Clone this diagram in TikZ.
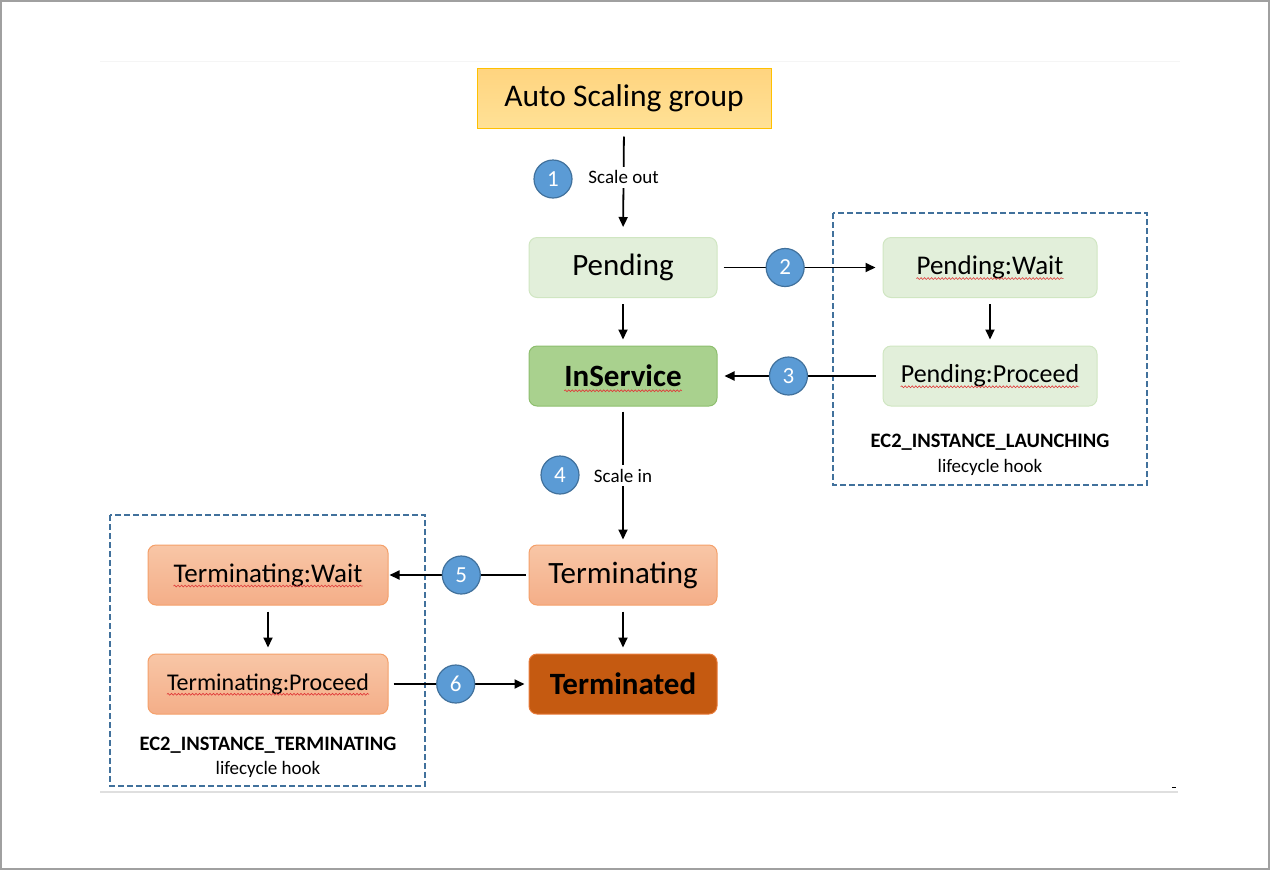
\documentclass[tikz,border=0pt]{standalone}
\usepackage{fontspec}
\setmainfont{Carlito}
\usetikzlibrary{arrows.meta,decorations.pathmorphing}

\definecolor{framegray}{HTML}{A0A0A0}
\definecolor{hookblue}{HTML}{41719C}
\definecolor{stepblue}{HTML}{5B9BD5}
\definecolor{asgtop}{HTML}{FFD47F}
\definecolor{asgbot}{HTML}{FFE196}
\definecolor{asgline}{HTML}{FFC000}
\definecolor{pendfill}{HTML}{E2EFDA}
\definecolor{pendline}{HTML}{D0E6C2}
\definecolor{insvfill}{HTML}{A9D18E}
\definecolor{insvline}{HTML}{8DBE6E}
\definecolor{termtop}{HTML}{F8C6A6}
\definecolor{termbot}{HTML}{F4AE88}
\definecolor{termline}{HTML}{F4A06A}
\definecolor{termdfill}{HTML}{C55A11}
\definecolor{termdline}{HTML}{E87B3A}
\definecolor{spellred}{HTML}{E03A3A}

\tikzset{
  asgbox/.style={draw=asgline, line width=1pt, top color=asgtop, bottom color=asgbot,
    minimum width=294pt, minimum height=60pt, font=\fontsize{31.5}{37}\selectfont},
  state/.style={rounded corners=8pt, line width=1pt, minimum width=188pt, minimum height=60pt,
    font=\fontsize{31}{37}\selectfont},
  pendstate/.style={state, draw=pendline, fill=pendfill},
  insvstate/.style={state, draw=insvline, fill=insvfill},
  termstate/.style={state, draw=termline, top color=termtop, bottom color=termbot},
  termdstate/.style={state, draw=termdline, fill=termdfill},
  boxtext/.style={inner sep=0pt},
  flow/.style={line width=1.8pt, -{Triangle[length=10pt,width=9pt]}},
  stepnum/.style={circle, draw=hookblue, line width=1.2pt, fill=stepblue, minimum size=38pt,
    inner sep=0pt, text=white, font=\fontsize{23}{27}\selectfont},
  steplabel/.style={fill=white, inner sep=4pt, font=\fontsize{19}{23}\selectfont},
  hookbox/.style={draw=hookblue, line width=1.5pt, dash pattern=on 6pt off 3pt},
  hookname/.style={font=\bfseries\fontsize{20.5}{24}\selectfont},
  hooknote/.style={font=\fontsize{19}{23}\selectfont},
  spell/.style={draw=spellred, line width=0.6pt, decorate,
    decoration={snake, amplitude=0.9pt, segment length=3.5pt}}
}

\begin{document}
\begin{tikzpicture}[x=1pt,y=1pt]
\useasboundingbox (0,0) rectangle (1271,-871);
% Drawing page frame
\draw[color=framegray, line width=2pt] (1,-1) rectangle (1269,-869);
\draw[color=gray!8, line width=1pt] (100,-61) -- (1180,-61);
\draw[color=gray!25, line width=1.5pt] (100,-792) -- (1178,-792);
\draw[color=black, line width=1pt] (1172,-787) -- (1176,-787);
% Done with frame; drawing lifecycle hook boxes
\draw[hookbox] (833,-213) rectangle (1147,-485);
\draw[hookbox] (110,-515) rectangle (425,-786);
% Done with hook boxes; drawing states
\node[asgbox] (asg) at (624,-98) {Auto Scaling group};
\node[pendstate] (pend) at (623,-267.5) {Pending};
\node[insvstate] (insv) at (623,-376) {};
\node[boxtext, font=\bfseries\fontsize{31}{37}\selectfont] (insvtxt) at (insv) {InService};
\node[pendstate, minimum width=214pt] (pwait) at (990,-267.5) {};
\node[boxtext, font=\fontsize{27}{32}\selectfont] (pwaittxt) at (pwait) {Pending:Wait};
\node[pendstate, minimum width=214pt] (pproc) at (990,-376) {};
\node[boxtext, font=\fontsize{26}{31}\selectfont] (pproctxt) at (pproc) {Pending:Proceed};
\node[termstate] (term) at (623,-575) {Terminating};
\node[termdstate, font=\bfseries\fontsize{31}{37}\selectfont] (termd) at (623,-684) {Terminated};
\node[termstate, minimum width=240pt] (twait) at (268,-575) {};
\node[boxtext, font=\fontsize{27}{32}\selectfont] (twaittxt) at (twait) {Terminating:Wait};
\node[termstate, minimum width=240pt] (tproc) at (268,-684) {};
\node[boxtext, font=\fontsize{24}{29}\selectfont] (tproctxt) at (tproc) {Terminating:Proceed};
% Line: spell check marks
\foreach \t in {insvtxt,pwaittxt,pproctxt,twaittxt,tproctxt}
  \draw[spell] ([yshift=-4pt]\t.base west) -- ([yshift=-4pt]\t.base east);
% Done with states; drawing hook labels
\node[hookname] (lname) at (990,-442) {EC2\_INSTANCE\_LAUNCHING};
\node[hooknote] (lnote) at (990,-467) {lifecycle hook};
\node[hookname] (tname) at (268,-745) {EC2\_INSTANCE\_TERMINATING};
\node[hooknote] (tnote) at (268,-769) {lifecycle hook};
% Done with labels; drawing transitions
\draw[flow, shorten <=8pt, shorten >=10pt] (asg.south) -- node[pos=0.45, steplabel] (sout) {Scale out} (pend.north);
\node[stepnum] (n1) at (553,-179) {1};
\draw[flow, shorten <=6pt, shorten >=6pt] (pend) -- (insv);
\draw[flow, shorten <=6pt, shorten >=7pt] (pend.east) -- node[pos=0.41, stepnum] (n2) {2} (pwait.west);
\draw[flow, shorten <=6pt, shorten >=6pt] (pwait) -- (pproc);
\draw[flow, shorten <=7pt, shorten >=7pt] (pproc.west) -- node[pos=0.57, stepnum] (n3) {3} (insv.east);
\draw[flow, shorten <=5pt, shorten >=5pt] (insv.south) -- node[pos=0.5, steplabel] (sin) {Scale in} (term.north);
\node[stepnum] (n4) at (560,-475) {4};
\draw[flow, shorten <=3pt, shorten >=1pt] (term.west) -- node[pos=0.48, stepnum] (n5) {5} (twait.east);
\draw[flow, shorten <=6pt, shorten >=6pt] (term) -- (termd);
\draw[flow, shorten <=6pt, shorten >=6pt] (twait) -- (tproc);
\draw[flow, shorten <=5pt, shorten >=4pt] (tproc.east) -- node[pos=0.48, stepnum] (n6) {6} (termd.west);
% Done with transitions
\end{tikzpicture}
\end{document}
